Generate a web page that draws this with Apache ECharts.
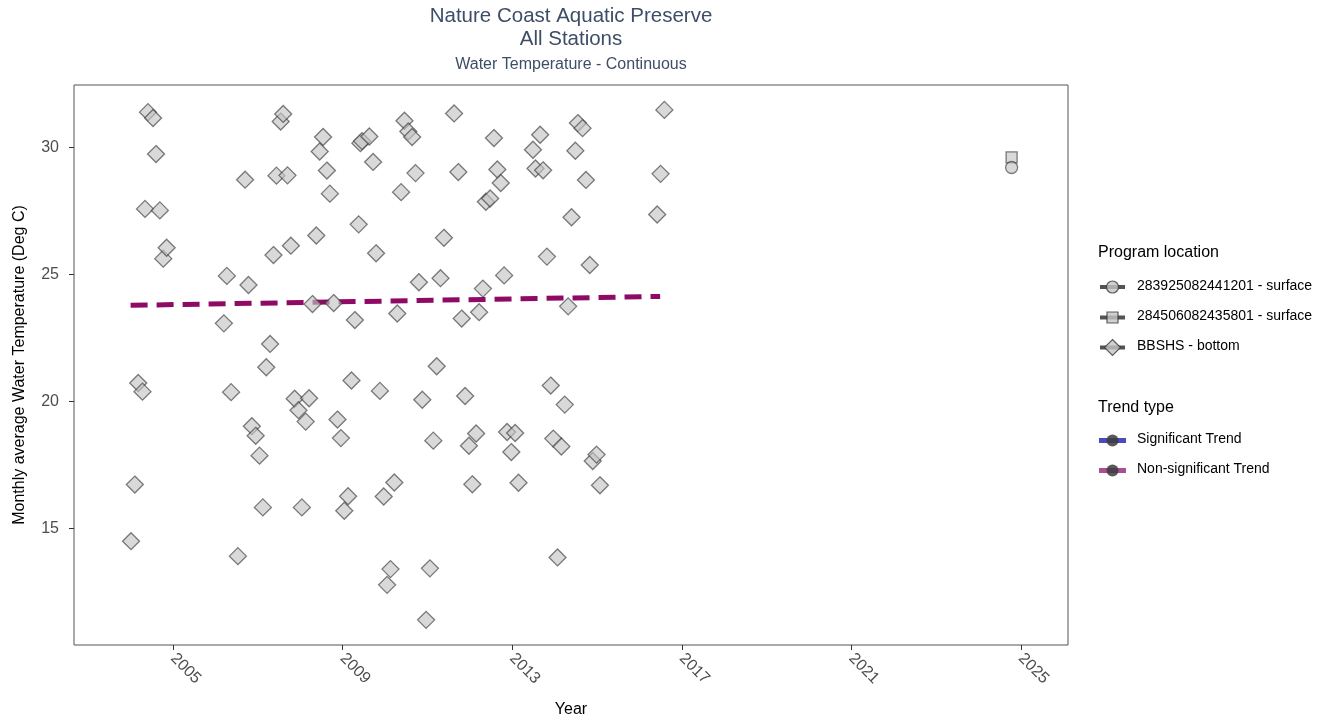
<!DOCTYPE html>
<html>
<head>
<meta charset="utf-8">
<script src="https://cdn.jsdelivr.net/npm/echarts@6/dist/echarts.min.js"></script>
<style>
html,body{margin:0;padding:0;background:#fff;}
#chart{width:1341px;height:723px;}
</style>
</head>
<body>
<div id="chart"></div>
<script>
// ---- Data (decimal year, monthly average water temperature, Deg C) ----
const bbshsYears = [
  2004.01,2004.10,2004.18,2004.28,2004.34,2004.41,2004.53,2004.60,2004.69,2004.77,2004.85,
  2006.20,2006.27,2006.37,2006.53,2006.70,2006.78,2006.86,2006.95,2007.04,2007.12,2007.20,
  2007.29,2007.37,2007.44,2007.54,2007.60,2007.70,2007.78,2007.87,2007.96,2008.04,2008.13,
  2008.21,2008.29,2008.38,2008.46,2008.54,2008.63,2008.70,2008.79,2008.88,2008.96,2009.04,
  2009.13,2009.21,2009.29,2009.38,2009.42,2009.46,2009.63,2009.72,2009.79,2009.88,2009.97,
  2010.05,2010.13,2010.22,2010.29,2010.38,2010.46,2010.55,2010.64,2010.72,2010.80,2010.88,
  2010.97,2011.06,2011.14,2011.22,2011.31,2011.39,2011.63,2011.73,2011.81,2011.89,2011.98,
  2012.06,2012.15,2012.22,2012.31,2012.38,2012.48,2012.57,2012.65,2012.73,2012.81,2012.88,
  2012.98,2013.07,2013.15,2013.49,2013.55,2013.66,2013.73,2013.82,2013.91,2013.97,2014.07,
  2014.16,2014.24,2014.32,2014.40,2014.49,2014.55,2014.66,2014.74,2014.83,2014.90,2014.99,
  2015.07,2016.42,2016.50,2016.59
];
const bbshsTemps = [
  14.50,16.73,20.73,20.39,27.59,31.40,31.17,29.75,27.53,25.63,26.06,
  23.08,24.95,20.37,13.91,28.74,24.59,19.03,18.65,17.87,15.83,21.35,
  22.27,25.77,28.90,31.03,31.33,28.91,26.14,20.11,19.66,15.83,19.21,
  20.13,23.84,26.54,29.85,30.42,29.10,28.19,23.88,19.29,18.56,15.70,
  16.27,20.83,23.21,26.98,30.18,30.26,30.44,29.44,25.84,20.42,16.26,
  12.78,13.40,16.81,23.47,28.25,31.06,30.64,30.42,29.00,24.70,20.07,
  11.40,13.43,18.46,21.39,24.86,26.45,31.35,29.04,23.27,20.22,18.26,
  16.74,18.74,23.52,24.45,27.87,28.00,30.38,29.14,28.61,24.97,18.80,
  18.01,18.76,16.80,29.92,29.18,30.51,29.11,25.71,20.63,18.54,13.86,
  18.23,19.88,23.75,27.26,29.88,30.97,30.77,28.73,25.38,17.66,17.91,
  16.70,27.37,28.97,31.49
];
const site1Years = [2024.78];
const site1Temps = [29.22];
const site2Years = [2024.78];
const site2Temps = [29.62];
const trendYears = [2004.00, 2016.49];
const trendTemps = [23.79, 24.14];
const xTickValues = [2005, 2009, 2013, 2017, 2021, 2025];
const yTickValues = [15, 20, 25, 30];

const seriesNames = ['283925082441201 - surface', '284506082435801 - surface', 'BBSHS - bottom'];
const trendNames = ['Significant Trend', 'Non-significant Trend'];

const zip = (a, b) => a.map((v, i) => [v, b[i]]);

const FONT = '"Liberation Sans", Arial, sans-serif';
const pointFill = 'rgba(196,196,196,0.8)';
const pointBorder = 'rgba(55,55,55,0.8)';

const chart = echarts.init(document.getElementById('chart'), null, {renderer: 'canvas'});

// legend built as graphic elements (ggplot style key: bar through shape)
const lgX = 1098, keyX0 = 1100, keyX1 = 1125, keyC = 1112.5, textX = 1137;
const legendGraphics = [];
legendGraphics.push({type:'text', left: lgX, top: 245, style:{text:'Program location', font:'16px ' + FONT, fill:'#000'}});
const rowsY = [287, 317.5, 347.5];
rowsY.forEach((y, i) => {
  legendGraphics.push({type:'rect', shape:{x:keyX0, y:y-2, width:keyX1-keyX0, height:4}, style:{fill:'rgba(40,40,40,0.8)'}});
  if (i === 0) legendGraphics.push({type:'circle', shape:{cx:keyC, cy:y, r:6}, style:{fill:pointFill, stroke:pointBorder, lineWidth:1.2}});
  if (i === 1) legendGraphics.push({type:'rect', shape:{x:keyC-5.5, y:y-5.5, width:11, height:11}, style:{fill:pointFill, stroke:pointBorder, lineWidth:1.2}});
  if (i === 2) legendGraphics.push({type:'polygon', shape:{points:[[keyC, y-8],[keyC+8, y],[keyC, y+8],[keyC-8, y]]}, style:{fill:pointFill, stroke:pointBorder, lineWidth:1.2}});
  legendGraphics.push({type:'text', left: textX, top: y-8, style:{text:seriesNames[i], font:'14px ' + FONT, fill:'#000'}});
});
legendGraphics.push({type:'text', left: lgX, top: 400, style:{text:'Trend type', font:'16px ' + FONT, fill:'#000'}});
const trendRowsY = [440.5, 470.5];
const trendBarColors = ['rgba(30,30,170,0.8)', 'rgba(140,20,110,0.75)'];
trendRowsY.forEach((y, i) => {
  legendGraphics.push({type:'rect', shape:{x:keyX0-1, y:y-2.5, width:keyX1-keyX0+2, height:5}, style:{fill:trendBarColors[i]}});
  legendGraphics.push({type:'circle', shape:{cx:keyC, cy:y, r:6}, style:{fill:'rgba(60,60,60,0.85)'}});
  legendGraphics.push({type:'text', left: textX, top: y-8, style:{text:trendNames[i], font:'14px ' + FONT, fill:'#000'}});
});

const titleColor = '#3d4e66';
const titleGraphics = [
  {type:'text', x:571, y:6, style:{text:'Nature Coast Aquatic Preserve', font:'20.5px ' + FONT, fill:titleColor, textAlign:'center'}},
  {type:'text', x:571, y:29, style:{text:'All Stations', font:'20.5px ' + FONT, fill:titleColor, textAlign:'center'}},
  {type:'text', x:571, y:57, style:{text:'Water Temperature - Continuous', font:'16px ' + FONT, fill:titleColor, textAlign:'center'}}
];

const option = {
  animation: false,
  backgroundColor: '#fff',
  textStyle: {fontFamily: FONT},
  grid: {left: 74, top: 85, width: 994, height: 562, show: true, borderColor: '#555', borderWidth: 1, backgroundColor: 'transparent'},
  xAxis: {
    type: 'value', min: 2002.665, max: 2026.11,
    name: 'Year', nameLocation: 'middle', nameGap: 57,
    nameTextStyle: {fontSize: 16, color: '#000', fontFamily: FONT},
    axisLine: {show: false},
    axisTick: {show: true, length: 5, lineStyle: {color: '#333'}, customValues: xTickValues},
    axisLabel: {show: true, rotate: -45, fontSize: 16, color: '#4d4d4d', margin: 11, customValues: xTickValues, fontFamily: FONT,
      formatter: v => String(Math.round(v))},
    splitLine: {show: false}
  },
  yAxis: {
    type: 'value', min: 10.41, max: 32.47,
    name: 'Monthly average Water Temperature (Deg C)', nameLocation: 'middle', nameGap: 46, nameRotate: 90,
    nameTextStyle: {fontSize: 16, color: '#000', fontFamily: FONT},
    axisLine: {show: false},
    axisTick: {show: true, length: 5, lineStyle: {color: '#333'}, customValues: yTickValues},
    axisLabel: {show: true, fontSize: 16, color: '#4d4d4d', margin: 15, customValues: yTickValues, fontFamily: FONT,
      formatter: v => String(Math.round(v))},
    splitLine: {show: false}
  },
  series: [
    {
      name: 'Non-significant Trend', type: 'line', data: zip(trendYears, trendTemps),
      symbol: 'none', z: 2,
      lineStyle: {color: '#8e0a64', width: 5, type: [17, 9], cap: 'butt'}
    },
    {
      name: seriesNames[2], type: 'scatter', data: zip(bbshsYears, bbshsTemps),
      symbol: 'diamond', symbolSize: 17, z: 3,
      itemStyle: {color: pointFill, borderColor: pointBorder, borderWidth: 1.3}
    },
    {
      name: seriesNames[1], type: 'scatter', data: zip(site2Years, site2Temps),
      symbol: 'rect', symbolSize: 11, z: 3,
      itemStyle: {color: pointFill, borderColor: pointBorder, borderWidth: 1.3}
    },
    {
      name: seriesNames[0], type: 'scatter', data: zip(site1Years, site1Temps),
      symbol: 'circle', symbolSize: 12, z: 3,
      itemStyle: {color: pointFill, borderColor: pointBorder, borderWidth: 1.3}
    }
  ],
  graphic: titleGraphics.concat(legendGraphics)
};
chart.setOption(option);
</script>
</body>
</html>
